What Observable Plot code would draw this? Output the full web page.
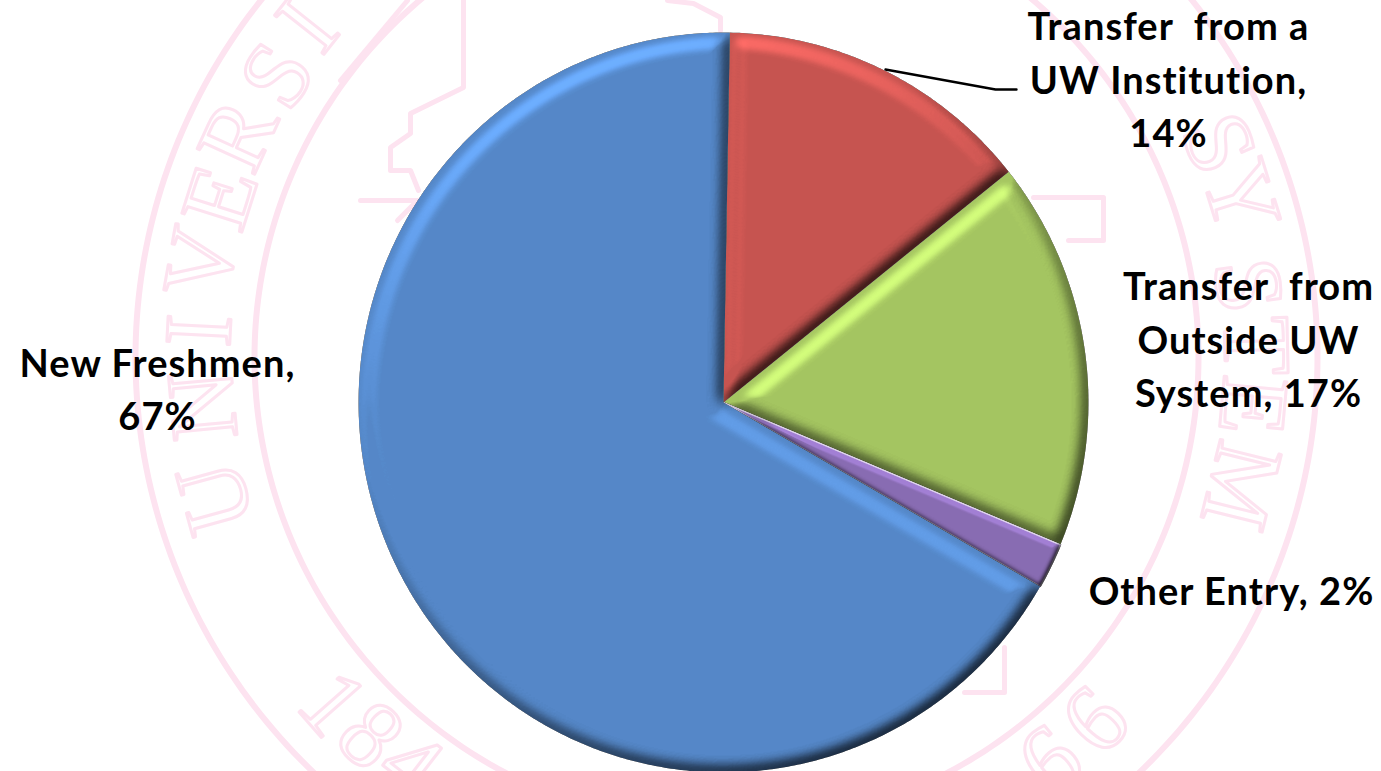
<!DOCTYPE html>
<html><head><meta charset="utf-8">
<script src="https://cdn.jsdelivr.net/npm/d3@7"></script>
<script src="https://cdn.jsdelivr.net/npm/@observablehq/plot@0.6"></script>
<style>html,body{margin:0;padding:0;background:#fff;overflow:hidden}svg{display:block}.slicelabel text{letter-spacing:1.05px}</style>
</head><body><div id="chart"></div>
<script>
// Chart data (clockwise from 12 o'clock)
const names = ["Transfer from a UW Institution", "Transfer from Outside UW System", "Other Entry", "New Freshmen"];
const values = [14, 17, 2, 67];
const labelLines = [
  ["Transfer  from a", "UW Institution,", "14%"],
  ["Transfer  from", "Outside UW", "System, 17%"],
  ["Other Entry, 2%"],
  ["New Freshmen,", "67%"]
];

// Styling and layout, kept apart from the data
const colors = ["#C85450", "#A6C761", "#8A6CB4", "#5589CA"];
const outlines = ["none", "none", "#CFC6DA", "none"];
const insets = [9, 9, 3, 10];
const labelX = [1168, 1248, 1231, 157];
const labelY = [76, 336, 587, 386];
const center = {x: 723, y: 402, rx: 365, ry: 370, startDeg: 1};
const seal = {x: 726, y: 357};
const sealRings = [{rx: 591, ry: 580}, {rx: 472, ry: 470}];
const sealGlyphs = ["U","N","I","V","E","R","S","I","S","Y","S","T","E","M","1","8","4","6","6"];
const sealGlyphX = [215,203,199,201,220,238,277,307,1218,1240,1247,1255,1252,1240,332,370,410,1095,1050];
const sealGlyphY = [497,405,330,262,197,135,75,25,143,197,285,345,405,485,703,735,765,720,760];
const sealTraces = [
  [[407,0],[340,80]],
  [[463,0],[463,87],[410,113],[410,133],[390,147],[390,170],[410,170],[418,190]],
  [[360,200],[417,200],[397,220]],
  [[720,30],[720,17],[693,3],[667,0]],
  [[1004,647],[1004,692],[964,692]],
  [[1033,197],[1103,197],[1103,240],[1068,240]]
];
const leader = [[885,69],[995,89],[1016,89]];

// Wedges derived from the values
const total = d3.sum(values);
const ends = d3.cumsum(values);
const wedge = (i) => {
  const a0 = (i ? ends[i-1] : 0) / total * 360 + center.startDeg;
  const a1 = ends[i] / total * 360 + center.startDeg;
  const pts = [{name: names[i], x: center.x, y: center.y}];
  for (const a of d3.range(a0, a1, 0.5).concat(a1)) {
    const r = a * Math.PI / 180;
    pts.push({name: names[i], x: center.x + center.rx * Math.sin(r), y: center.y - center.ry * Math.cos(r)});
  }
  pts.push(pts[0]);
  return pts;
};

const ringPoints = sealRings.flatMap((r, k) => d3.range(0, 361, 1).map(a => ({
  k, x: seal.x + r.rx * Math.sin(a * Math.PI / 180), y: seal.y - r.ry * Math.cos(a * Math.PI / 180)})));
const glyphTable = sealGlyphs.map((t, i) => {
  const bearing = Math.atan2(sealGlyphX[i] - seal.x, seal.y - sealGlyphY[i]) * 180 / Math.PI;
  return {t, x: sealGlyphX[i], y: sealGlyphY[i], rotate: i >= 14 ? bearing + 180 : bearing};
});
const traceTable = sealTraces.flatMap((t, k) => t.map(([x, y]) => ({k, x, y})));
const labelTable = names.map((n, i) => ({n, x: labelX[i], y: labelY[i], text: labelLines[i].join("\n")}));
const pink = "#FDE3F0";

const withFilter = (id) => (index, scales, values, dims, context, next) => {
  const g = next(index, scales, values, dims, context);
  g.setAttribute("filter", `url(#${id})`);
  return g;
};

const svg = Plot.plot({
  width: 1381, height: 771,
  margin: 0,
  x: {domain: [0, 1381], range: [0, 1381], axis: null},
  y: {domain: [0, 771], range: [0, 771], axis: null},
  color: {domain: names, range: colors},
  style: {background: "#fff"},
  marks: [
    Plot.line(ringPoints, {x: "x", y: "y", z: "k", stroke: pink, strokeWidth: 6}),
    Plot.line(traceTable, {x: "x", y: "y", z: "k", stroke: pink, strokeWidth: 5, curve: "linear"}),
    Plot.text(glyphTable, {x: "x", y: "y", text: "t", rotate: "rotate", fontFamily: "Liberation Serif",
      fontSize: 96, fill: "none", stroke: pink, strokeWidth: 3, lineAnchor: "middle"}),
    ...names.map((_, i) => Plot.line(wedge(i), {x: "x", y: "y", fill: "name", stroke: outlines[i], strokeWidth: 1.6, curve: "linear",
      render: withFilter("bevel" + i)})),
    Plot.line(leader, {x: d => d[0], y: d => d[1], stroke: "#000", strokeWidth: 2.4, curve: "linear"}),
    Plot.text(labelTable, {x: "x", y: "y", text: "text", fontFamily: "Lato", fontWeight: 700, fontSize: 38,
      lineHeight: 1.4, fill: "#000", textAnchor: "middle", lineAnchor: "middle", className: "slicelabel"})
  ]
});

// Bevel filters: an inset highlight band plus a soft dark band at the shaded edges
const defs = d3.select(svg).insert("defs", ":first-child");
insets.forEach((inset, i) => {
  const big = inset > 3;
  const f = defs.append("filter").attr("id", "bevel" + i)
    .attr("filterUnits", "userSpaceOnUse").attr("x", 0).attr("y", 0).attr("width", 1381).attr("height", 771)
    .attr("color-interpolation-filters", "sRGB");
  const transfer = (input, table, result) => {
    const t = f.append("feComponentTransfer").attr("in", input).attr("result", result);
    for (const c of ["feFuncR", "feFuncG", "feFuncB"]) t.append(c).attr("type", "table").attr("tableValues", table);
  };
  // highlight height map
  f.append("feMorphology").attr("in", "SourceAlpha").attr("operator", "erode").attr("radius", inset).attr("result", "core");
  f.append("feGaussianBlur").attr("in", "core").attr("stdDeviation", big ? 4 : 1.5).attr("result", "softA");
  f.append("feDiffuseLighting").attr("in", "softA").attr("surfaceScale", big ? 3.2 : 2)
    .attr("diffuseConstant", 0.7071).attr("lighting-color", "#fff").attr("result", "litA")
    .append("feDistantLight").attr("azimuth", 250).attr("elevation", 45);
  transfer("litA", "0.5 0.5 0.9", "hi");
  // shadow height map
  f.append("feGaussianBlur").attr("in", "SourceAlpha").attr("stdDeviation", big ? 7 : 2.5).attr("result", "softB");
  f.append("feDiffuseLighting").attr("in", "softB").attr("surfaceScale", big ? 9 : 4)
    .attr("diffuseConstant", 0.7071).attr("lighting-color", "#fff").attr("result", "litB")
    .append("feDistantLight").attr("azimuth", 235).attr("elevation", 45);
  transfer("litB", "0.18 0.5 0.5", "lo");
  f.append("feComposite").attr("in", "SourceGraphic").attr("in2", "hi").attr("operator", "arithmetic")
    .attr("k1", 2).attr("k2", 0).attr("k3", 0).attr("k4", 0).attr("result", "a");
  f.append("feComposite").attr("in", "a").attr("in2", "lo").attr("operator", "arithmetic")
    .attr("k1", 2).attr("k2", 0).attr("k3", 0).attr("k4", 0).attr("result", "b");
  f.append("feComposite").attr("in", "b").attr("in2", "SourceAlpha").attr("operator", "in");
});

document.getElementById("chart").append(svg);
</script>
</body></html>
